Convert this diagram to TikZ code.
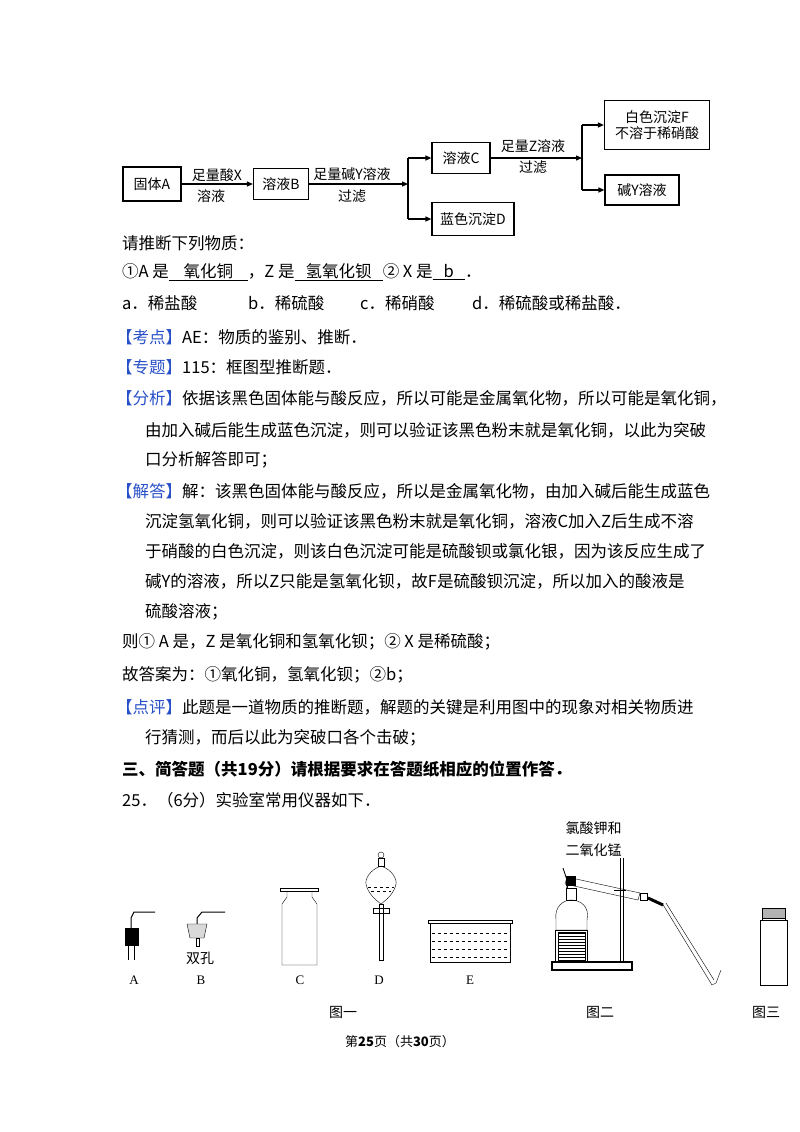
\documentclass[tikz,border=0pt]{standalone}
\usepackage{fontspec}
\setmainfont{Liberation Serif}
\newfontfamily\cjk{Noto Sans CJK SC}
\usetikzlibrary{arrows.meta,patterns}
\definecolor{kblue}{RGB}{40,80,200}
\begin{document}
\begin{tikzpicture}[x=1pt,y=-1pt,
  box/.style={draw,line width=1.2pt,inner sep=2pt,font=\cjk\fontsize{14}{16}\selectfont,align=center},
  fl/.style={font=\cjk\fontsize{14}{15}\selectfont,align=center},
  arr/.style={line width=1.2pt,-{Triangle[length=6pt,width=5pt]}},
  ln/.style={anchor=west,inner sep=0pt,font=\cjk\fontsize{16.5}{18}\selectfont},
  lab/.style={font=\fontsize{13}{14}\selectfont},
  figcap/.style={font=\cjk\fontsize{14}{15}\selectfont}]
\useasboundingbox (0,0) rectangle (800,1132);
% flowchart
\node[box,minimum width=58pt,minimum height=34pt] (A) at (152,184) {固体A};
\node[box,minimum width=55pt,minimum height=31pt] (B) at (281,184) {溶液B};
\node[box,minimum width=58pt,minimum height=31pt] (C) at (461,158) {溶液C};
\node[box,minimum width=82pt,minimum height=33pt] (D) at (473,219) {蓝色沉淀D};
\node[box,minimum width=105pt,minimum height=49pt] (F) at (657,125) {白色沉淀F\\不溶于稀硝酸};
\node[box,minimum width=74pt,minimum height=30pt] (Y) at (642,190) {碱Y溶液};
\coordinate (s1) at (408,184);
\coordinate (s2) at (582,158);
\draw[arr] (A) -- (B);
\node[fl] at (217,175) {足量酸X};
\node[fl] at (211,196) {溶液};
\draw[arr] (B.east) -- (s1);
\node[fl] at (352,174) {足量碱Y溶液};
\node[fl] at (352,196) {过滤};
\draw[line width=1.2pt] (408,158) -- (408,219);
\draw[arr] (408,158) -- (C.west);
\draw[arr] (408,219) -- (D.west);
\draw[arr] (C.east) -- (s2);
\node[fl] at (533,146) {足量Z溶液};
\node[fl] at (533,167) {过滤};
\draw[line width=1.2pt] (582,125) -- (582,190);
\draw[arr] (582,125) -- (F.west);
\draw[arr] (582,190) -- (Y.west);
% text lines
\node[ln] at (122,243) {请推断下列物质：};
\node[ln] at (122,272) {①A 是\underline{\ \ \ \ 氧化铜\ \ \ \ }，Z 是\underline{\ \ \ 氢氧化钡\ \ \ }② X 是\underline{\ \ \ b\ \ \ }．};
\node[ln] at (122,303) {a．稀盐酸};
\node[ln] at (248,303) {b．稀硫酸};
\node[ln] at (360,303) {c．稀硝酸};
\node[ln] at (472,303) {d．稀硫酸或稀盐酸．};
\node[ln] at (116,337) {\textcolor{kblue}{【考点】}AE：物质的鉴别、推断．};
\node[ln] at (116,367) {\textcolor{kblue}{【专题】}115：框图型推断题．};
\node[ln] at (116,398) {\textcolor{kblue}{【分析】}依据该黑色固体能与酸反应，所以可能是金属氧化物，所以可能是氧化铜，};
\node[ln] at (145,430) {由加入碱后能生成蓝色沉淀，则可以验证该黑色粉末就是氧化铜，以此为突破};
\node[ln] at (145,460) {口分析解答即可；};
\node[ln] at (116,491) {\textcolor{kblue}{【解答】}解：该黑色固体能与酸反应，所以是金属氧化物，由加入碱后能生成蓝色};
\node[ln] at (145,521) {沉淀氢氧化铜，则可以验证该黑色粉末就是氧化铜，溶液C加入Z后生成不溶};
\node[ln] at (145,551) {于硝酸的白色沉淀，则该白色沉淀可能是硫酸钡或氯化银，因为该反应生成了};
\node[ln] at (145,581) {碱Y的溶液，所以Z只能是氢氧化钡，故F是硫酸钡沉淀，所以加入的酸液是};
\node[ln] at (145,612) {硫酸溶液；};
\node[ln] at (122,642) {则① A 是，Z 是氧化铜和氢氧化钡；② X 是稀硫酸；};
\node[ln] at (122,675) {故答案为：①氧化铜，氢氧化钡；②b；};
\node[ln] at (116,707) {\textcolor{kblue}{【点评】}此题是一道物质的推断题，解题的关键是利用图中的现象对相关物质进};
\node[ln] at (145,738) {行猜测，而后以此为突破口各个击破；};
\node[ln,font=\cjk\bfseries\fontsize{16.5}{18}\selectfont] at (122,769) {三、简答题（共19分）请根据要求在答题纸相应的位置作答．};
\node[ln] at (122,800) {25．（6分）实验室常用仪器如下．};
% apparatus A
\draw[line width=1pt] (131,945) -- (131,918) -- (134,912) -- (155,912);
\fill (125,928) rectangle (139,946);
\draw (128,946) -- (128,960) (134,946) -- (134,960);
\node[lab] (la) at (134,980) {A};
% B
\draw[line width=1pt] (197,925) -- (197,918) -- (202,912) -- (225,912);
\draw[fill=gray!30] (187,924) -- (207,924) -- (204,938) -- (190,938) -- cycle;
\draw (196,938) rectangle (199,946);
\node[figcap] (shk) at (200,958) {双孔};
\node[lab] (lb) at (201,980) {B};
% C bottle
\draw[fill=white] (280,888) rectangle (318,891);
\draw (287,891) -- (287,897) -- (282,904) -- (282,965) -- (317,965) -- (317,904) -- (312,897) -- (312,891);
\node[lab] (lc) at (300,980) {C};
% D funnel
\draw (381,855) circle (3);
\draw (378,858) rectangle (384,866);
\draw (381,866) .. controls (369,870) and (365,880) .. (366,884) .. controls (368,894) and (376,900) .. (381,904) .. controls (386,900) and (394,894) .. (396,884) .. controls (397,880) and (393,870) .. (381,866);
\draw[dashed] (368,887) -- (394,887) (371,891) -- (391,891);
\draw (379,904) rectangle (383,960);
\draw (373,908) rectangle (389,913);
\node[lab] (ld) at (379,980) {D};
% E trough
\draw (428,920) rectangle (512,923);
\draw (430,923) rectangle (510,962);
\foreach \yy in {933,941,949,957} \draw[dashed] (432,\yy) -- (508,\yy);
\node[lab] (le) at (470,980) {E};
\node[figcap] (f1) at (343,1012) {图一};
% figure 2
\draw[line width=1.2pt] (552,962) rectangle (632,970);
\draw (620,858) -- (620,962) (623,858) -- (623,962);
\draw (555,930) rectangle (587,962);
\draw[pattern=horizontal lines] (558,932) rectangle (585,960);
\draw (556,920) .. controls (554,906) and (564,900) .. (571,900) .. controls (580,900) and (590,906) .. (587,920) -- (587,930) -- (556,930) -- cycle;
\draw (566,900) rectangle (576,888);
\draw[line width=1.3pt] (567,888) -- (570,876);
\draw (567,877) -- (640,893) -- (638,900) -- (565,884) -- cycle;
\fill (566,876) rectangle (576,886);
\draw[line width=0.8pt] (563,868) -- (567,880);
\draw (640,893) rectangle (647,900);
\draw[line width=3pt] (648,898) -- (663,905);
\draw (662,903) -- (712,985) -- (716,983) -- (721,970) (666,903) -- (714,980);
\draw (614,890) -- (626,890);
\node[figcap,anchor=west] (kc) at (562,828) {氯酸钾和};
\node[figcap,anchor=west] (mn) at (562,850) {二氧化锰};
\node[figcap] (f2) at (600,1012) {图二};
% figure 3
\draw[fill=gray!60] (762,908) rectangle (785,918);
\draw (760,920) rectangle (787,985);
\draw (762,918) -- (762,920) (785,918) -- (785,920);
\node[figcap] (f3) at (766,1012) {图三};
\node[font=\cjk\fontsize{13}{14}\selectfont] (ft) at (400,1042) {第\textbf{25}页（共\textbf{30}页）};
\end{tikzpicture}
\end{document}
